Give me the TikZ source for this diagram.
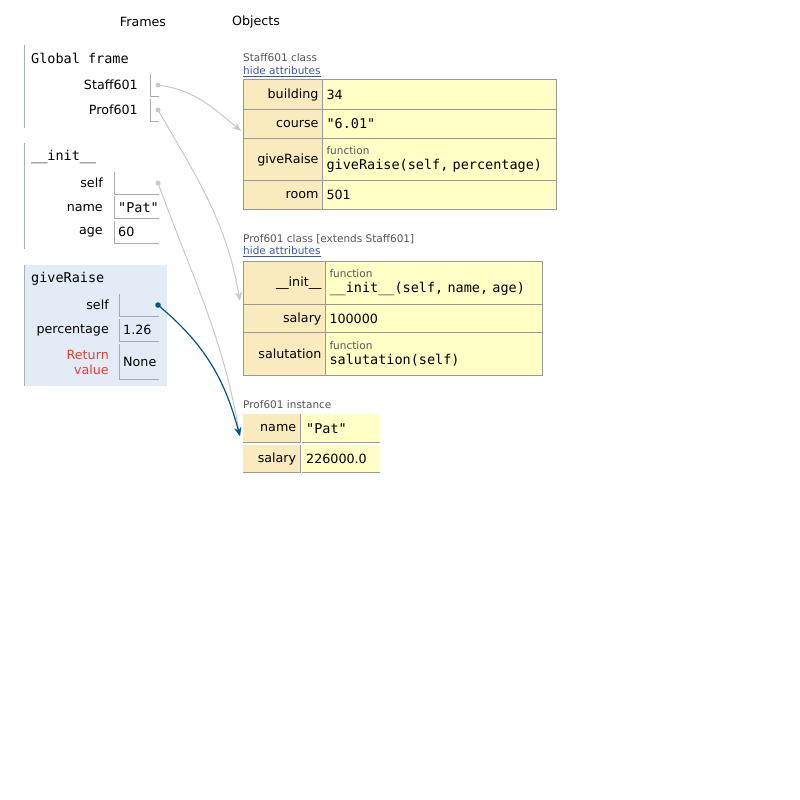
\documentclass[tikz,border=0pt]{standalone}
\usepackage{fontspec}
\setmainfont{DejaVu Sans}
\setmonofont{DejaVu Sans Mono}
\usetikzlibrary{arrows.meta}
\definecolor{keybg}{HTML}{FAEBBF}
\definecolor{valbg}{HTML}{FFFFC6}
\definecolor{tblline}{HTML}{999999}
\definecolor{framebg}{HTML}{E2EBF6}
\definecolor{frameedge}{HTML}{A6B3B6}
\definecolor{varline}{HTML}{AAAAAA}
\definecolor{arrowgray}{HTML}{C8C8C8}
\definecolor{arrowblue}{HTML}{005583}
\definecolor{retred}{HTML}{E93F34}
\definecolor{linkblue}{HTML}{3D58A2}
\definecolor{graytext}{HTML}{555555}
\newcommand\lbl{\fontsize{12.7}{15}\selectfont}
\newcommand\mono{\ttfamily\fontsize{13.5}{15}\selectfont}
\newcommand\smalltxt{\fontsize{10.5}{12}\selectfont}
\newcommand\fnlabel{{\smalltxt\color{graytext}function}}
\begin{document}
\begin{tikzpicture}[x=1pt, y=-1pt,
  every node/.style={inner sep=0pt, font=\lbl},
  keycell/.style={anchor=north west, fill=keybg, draw=tblline, line width=1pt, align=right, inner xsep=4pt},
  valcell/.style={anchor=north west, fill=valbg, draw=tblline, line width=1pt, align=left, inner xsep=4pt},
  instkey/.style={anchor=north west, fill=keybg, align=right, inner xsep=4pt},
  instval/.style={anchor=north west, fill=valbg, align=left, inner xsep=4pt},
  caption/.style={anchor=west, font=\smalltxt, text=graytext},
  hidelink/.style={anchor=west, font=\smalltxt, text=linkblue},
  frametitle/.style={anchor=west, font=\mono},
  varname/.style={anchor=east},
  varbox/.style={anchor=north west, align=left, inner xsep=4pt},
  boxline/.style={draw=varline, line width=1pt},
  edge/.style={draw=frameedge, line width=1pt},
  dot/.style={circle, fill=arrowgray, minimum size=5pt},
  bluedot/.style={circle, fill=arrowblue, minimum size=5.5pt},
  ref/.style={-{Stealth[length=9pt,width=7pt]}, draw=arrowgray, line width=1pt},
  refblue/.style={-{Stealth[length=9pt,width=7pt]}, draw=arrowblue, line width=1.2pt}
]
\useasboundingbox (0,0) rectangle (800,800);
\node (frames) at (143,22) {Frames};
\node (objects) at (256,22) {Objects};

% global frame
\draw[edge] (24.5,45) -- (24.5,128);
\node[frametitle] (gtitle) at (31,58) {Global frame};
\node[varname] (gstaff) at (138,85) {Staff601};
\node[varbox, text width=1pt, minimum height=22pt] (gstaffv) at (150,74) {};
\draw[boxline] (gstaffv.north west) |- (gstaffv.south east);
\node[dot] (gstaffd) at (158,85) {};
\node[varname] (gprof) at (138,110) {Prof601};
\node[varbox, text width=1pt, minimum height=22pt] (gprofv) at (150,99) {};
\draw[boxline] (gprofv.north west) |- (gprofv.south east);
\node[dot] (gprofd) at (158,110) {};

% __init__ frame
\draw[edge] (24.5,143) -- (24.5,249);
\node[frametitle] (ititle) at (31,157) {\_\_init\_\_};
\node[varname] (iself) at (103,183) {self};
\node[varbox, text width=37pt, minimum height=22pt] (iselfv) at (114,172) {};
\draw[boxline] (iselfv.north west) |- (iselfv.south east);
\node[dot] (iselfd) at (158,183) {};
\node[varname] (iname) at (103,208) {name};
\node[varbox, text width=37pt, minimum height=22pt] (inamev) at (114,196) {\mono "Pat"};
\draw[boxline] (inamev.north west) |- (inamev.south east);
\node[varname] (iage) at (103,232) {age};
\node[varbox, text width=37pt, minimum height=22pt] (iagev) at (114,221) {60};
\draw[boxline] (iagev.north west) |- (iagev.south east);

% giveRaise frame
\fill[framebg] (24,265) rectangle (167,386);
\draw[edge] (24.5,265) -- (24.5,386);
\node[frametitle] (rtitle) at (31,279) {giveRaise};
\node[varname] (rself) at (109,305) {self};
\node[varbox, text width=32pt, minimum height=22pt] (rselfv) at (119,294) {};
\draw[boxline] (rselfv.north west) |- (rselfv.south east);
\node[bluedot] (rselfd) at (158,305) {};
\node[varname] (rpct) at (109,330) {percentage};
\node[varbox, text width=32pt, minimum height=22pt] (rpctv) at (119,319) {1.26};
\draw[boxline] (rpctv.north west) |- (rpctv.south east);
\node[varname, align=right, text=retred] (rret) at (109,362) {Return\\value};
\node[varbox, text width=32pt, minimum height=35pt] (rretv) at (119,344) {None};
\draw[boxline] (rretv.north west) |- (rretv.south east);

% Staff601 class
\node[caption] (stitle) at (243,58) {Staff601 class};
\node[hidelink] (shide) at (243,72) {\underline{hide attributes}};
\node[keycell, text width=71pt, minimum height=30pt] (sbuildk) at (243,79) {building};
\node[valcell, text width=226pt, minimum height=30pt] (sbuildv) at (322,79) {34};
\node[keycell, text width=71pt, minimum height=29pt] (scoursek) at (243,109) {course};
\node[valcell, text width=226pt, minimum height=29pt] (scoursev) at (322,109) {\mono "6.01"};
\node[keycell, text width=71pt, minimum height=42pt] (sraisek) at (243,138) {giveRaise};
\node[valcell, text width=226pt, minimum height=42pt] (sraisev) at (322,138) {\fnlabel\\{\mono giveRaise(self, percentage)}};
\node[keycell, text width=71pt, minimum height=29pt] (sroomk) at (243,180) {room};
\node[valcell, text width=226pt, minimum height=29pt] (sroomv) at (322,180) {501};

% Prof601 class
\node[caption] (ptitle) at (243,239) {Prof601 class [extends Staff601]};
\node[hidelink] (phide) at (243,252) {\underline{hide attributes}};
\node[keycell, text width=74pt, minimum height=43pt] (pinitk) at (243,261) {\_\_init\_\_};
\node[valcell, text width=209pt, minimum height=43pt] (pinitv) at (325,261) {\fnlabel\\{\mono \_\_init\_\_(self, name, age)}};
\node[keycell, text width=74pt, minimum height=28pt] (psalk) at (243,304) {salary};
\node[valcell, text width=209pt, minimum height=28pt] (psalv) at (325,304) {100000};
\node[keycell, text width=74pt, minimum height=43pt] (psalutk) at (243,332) {salutation};
\node[valcell, text width=209pt, minimum height=43pt] (psalutv) at (325,332) {\fnlabel\\{\mono salutation(self)}};

% Prof601 instance
\node[caption] (ktitle) at (243,405) {Prof601 instance};
\node[instkey, text width=49pt, minimum height=28pt] (knamek) at (243,414) {name};
\node[instval, text width=70pt, minimum height=28pt] (knamev) at (302,414) {\mono "Pat"};
\node[instkey, text width=49pt, minimum height=27pt] (ksalk) at (243,445) {salary};
\node[instval, text width=70pt, minimum height=27pt] (ksalv) at (302,445) {226000.0};
\draw[boxline, draw=tblline] (knamek.north east) |- (knamek.south west);
\draw[boxline, draw=tblline] (knamev.south west) -- (knamev.south east);
\draw[boxline, draw=tblline] (ksalk.north east) |- (ksalk.south west);
\draw[boxline, draw=tblline] (ksalv.south west) -- (ksalv.south east);

% references
\draw[ref] (gstaffd.center) to[out=-8, in=140] ([xshift=-2pt, yshift=-7pt]scoursek.west);
\draw[ref] (gprofd.center) to[out=-60, in=100] ([xshift=-3pt, yshift=4pt]pinitk.south west);
\draw[ref] (iselfd.center) to[out=-70, in=100] ([xshift=-3pt, yshift=6pt]knamek.south west);
\draw[refblue] (rselfd.center) to[out=-40, in=105] ([xshift=-3pt, yshift=6pt]knamek.south west);
\end{tikzpicture}
\end{document}
